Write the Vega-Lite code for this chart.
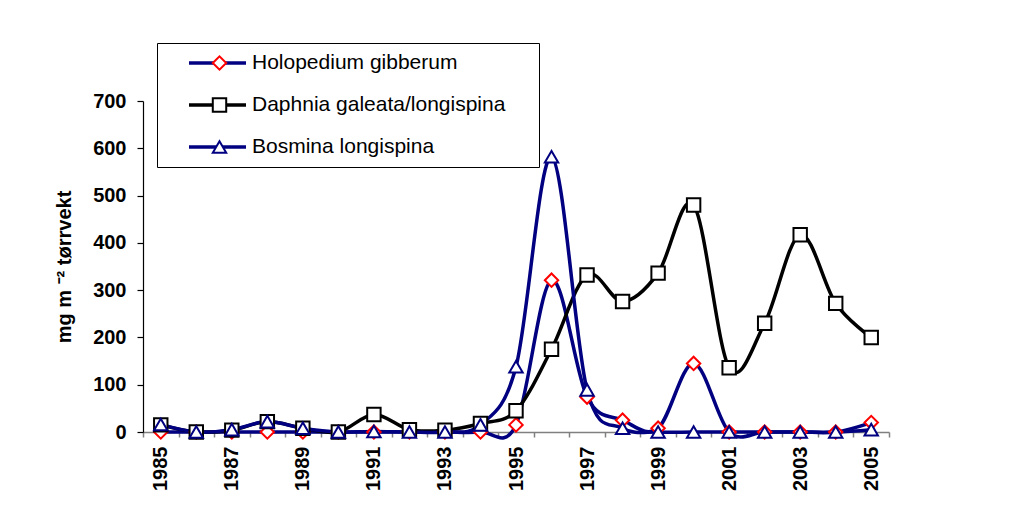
{
  "$schema": "https://vega.github.io/schema/vega-lite/v6.json",
  "autosize": "none",
  "width": 746,
  "height": 331,
  "padding": {"left": 143, "top": 101, "right": 138, "bottom": 81},
  "background": "white",
  "config": {
    "font": "Liberation Sans",
    "view": {"stroke": null}
  },
  "data": {
    "values": [
      {"year": 1985, "series": "Holopedium gibberum", "value": 0},
      {"year": 1986, "series": "Holopedium gibberum", "value": 0},
      {"year": 1987, "series": "Holopedium gibberum", "value": 0},
      {"year": 1988, "series": "Holopedium gibberum", "value": 0},
      {"year": 1989, "series": "Holopedium gibberum", "value": 0},
      {"year": 1990, "series": "Holopedium gibberum", "value": 0},
      {"year": 1991, "series": "Holopedium gibberum", "value": 0},
      {"year": 1992, "series": "Holopedium gibberum", "value": 0},
      {"year": 1993, "series": "Holopedium gibberum", "value": 0},
      {"year": 1994, "series": "Holopedium gibberum", "value": 0},
      {"year": 1995, "series": "Holopedium gibberum", "value": 15},
      {"year": 1996, "series": "Holopedium gibberum", "value": 321},
      {"year": 1997, "series": "Holopedium gibberum", "value": 74},
      {"year": 1998, "series": "Holopedium gibberum", "value": 25},
      {"year": 1999, "series": "Holopedium gibberum", "value": 8},
      {"year": 2000, "series": "Holopedium gibberum", "value": 145},
      {"year": 2001, "series": "Holopedium gibberum", "value": 0},
      {"year": 2002, "series": "Holopedium gibberum", "value": 0},
      {"year": 2003, "series": "Holopedium gibberum", "value": 0},
      {"year": 2004, "series": "Holopedium gibberum", "value": 0},
      {"year": 2005, "series": "Holopedium gibberum", "value": 20},
      {"year": 1985, "series": "Daphnia galeata/longispina", "value": 15},
      {"year": 1986, "series": "Daphnia galeata/longispina", "value": 0},
      {"year": 1987, "series": "Daphnia galeata/longispina", "value": 4},
      {"year": 1988, "series": "Daphnia galeata/longispina", "value": 22},
      {"year": 1989, "series": "Daphnia galeata/longispina", "value": 8},
      {"year": 1990, "series": "Daphnia galeata/longispina", "value": 0},
      {"year": 1991, "series": "Daphnia galeata/longispina", "value": 37},
      {"year": 1992, "series": "Daphnia galeata/longispina", "value": 5},
      {"year": 1993, "series": "Daphnia galeata/longispina", "value": 4},
      {"year": 1994, "series": "Daphnia galeata/longispina", "value": 18},
      {"year": 1995, "series": "Daphnia galeata/longispina", "value": 45},
      {"year": 1996, "series": "Daphnia galeata/longispina", "value": 175},
      {"year": 1997, "series": "Daphnia galeata/longispina", "value": 332},
      {"year": 1998, "series": "Daphnia galeata/longispina", "value": 276},
      {"year": 1999, "series": "Daphnia galeata/longispina", "value": 336},
      {"year": 2000, "series": "Daphnia galeata/longispina", "value": 480},
      {"year": 2001, "series": "Daphnia galeata/longispina", "value": 136},
      {"year": 2002, "series": "Daphnia galeata/longispina", "value": 230},
      {"year": 2003, "series": "Daphnia galeata/longispina", "value": 417},
      {"year": 2004, "series": "Daphnia galeata/longispina", "value": 272},
      {"year": 2005, "series": "Daphnia galeata/longispina", "value": 200},
      {"year": 1985, "series": "Bosmina longispina", "value": 16},
      {"year": 1986, "series": "Bosmina longispina", "value": 0},
      {"year": 1987, "series": "Bosmina longispina", "value": 5},
      {"year": 1988, "series": "Bosmina longispina", "value": 22},
      {"year": 1989, "series": "Bosmina longispina", "value": 8},
      {"year": 1990, "series": "Bosmina longispina", "value": 0},
      {"year": 1991, "series": "Bosmina longispina", "value": 1},
      {"year": 1992, "series": "Bosmina longispina", "value": 0},
      {"year": 1993, "series": "Bosmina longispina", "value": 0},
      {"year": 1994, "series": "Bosmina longispina", "value": 15},
      {"year": 1995, "series": "Bosmina longispina", "value": 138},
      {"year": 1996, "series": "Bosmina longispina", "value": 582},
      {"year": 1997, "series": "Bosmina longispina", "value": 89},
      {"year": 1998, "series": "Bosmina longispina", "value": 8},
      {"year": 1999, "series": "Bosmina longispina", "value": 0},
      {"year": 2000, "series": "Bosmina longispina", "value": 0},
      {"year": 2001, "series": "Bosmina longispina", "value": 0},
      {"year": 2002, "series": "Bosmina longispina", "value": 0},
      {"year": 2003, "series": "Bosmina longispina", "value": 0},
      {"year": 2004, "series": "Bosmina longispina", "value": 0},
      {"year": 2005, "series": "Bosmina longispina", "value": 5}
    ]
  },
  "encoding": {
    "x": {
      "field": "year",
      "type": "ordinal",
      "scale": {"type": "band", "paddingInner": 0, "paddingOuter": 0},
      "axis": {
        "title": null,
        "tickBand": "extent",
        "labelAngle": -90,
        "labelExpr": "datum.value % 2 == 1 ? datum.label : ''",
        "labelFontSize": 20,
        "labelFontWeight": "bold",
        "labelColor": "black",
        "labelPadding": 9,
        "tickSize": 5,
        "tickColor": "#808080",
        "domainColor": "#808080",
        "tickWidth": 1.5,
        "domainWidth": 1.5,
        "grid": false
      }
    },
    "y": {
      "field": "value",
      "type": "quantitative",
      "scale": {"domain": [0, 700], "nice": false},
      "axis": {
        "values": [0, 100, 200, 300, 400, 500, 600, 700],
        "title": "mg m \u207B\u00B2 tørrvekt",
        "titleFontSize": 20,
        "titleFontWeight": "bold",
        "titleColor": "black",
        "titlePadding": 18,
        "labelFontSize": 20,
        "labelFontWeight": "bold",
        "labelColor": "black",
        "labelPadding": 11,
        "tickSize": 6,
        "tickColor": "black",
        "domainColor": "black",
        "tickWidth": 1.2,
        "domainWidth": 1.2,
        "grid": false
      }
    }
  },
  "layer": [
    {
      "mark": {"type": "line", "interpolate": "cardinal", "strokeWidth": 3.5},
      "encoding": {
        "color": {
          "field": "series",
          "type": "nominal",
          "sort": ["Holopedium gibberum", "Daphnia galeata/longispina", "Bosmina longispina"],
          "scale": {"range": ["#000080", "#000000", "#000080"]},
          "legend": {
            "title": "\u00A0",
            "titleOrient": "right",
            "titleFontSize": 1,
            "titlePadding": 24,
            "orient": "none",
            "legendX": 14,
            "legendY": -58,
            "padding": 10,
            "strokeColor": "black",
            "fillColor": "white",
            "symbolType": "M-1,0L1,0",
            "symbolSize": 3249,
            "symbolStrokeWidth": 3.5,
            "symbolFillColor": "transparent",
            "symbolOffset": 20,
            "labelOffset": 4,
            "labelFontSize": 21,
            "labelColor": "black",
            "labelLimit": 400,
            "clipHeight": 20,
            "rowPadding": 21
          }
        }
      }
    },
    {
      "mark": {"type": "point", "filled": false, "fill": "white", "size": 180, "strokeWidth": 2, "opacity": 1},
      "encoding": {
        "stroke": {
          "field": "series",
          "type": "nominal",
          "scale": {
            "domain": ["Holopedium gibberum", "Daphnia galeata/longispina", "Bosmina longispina"],
            "range": ["#FF0000", "#000000", "#000080"]
          },
          "legend": {
            "title": null,
            "orient": "none",
            "legendX": 14,
            "legendY": -58,
            "padding": 10,
            "symbolSize": 180,
            "symbolStrokeWidth": 2,
            "symbolFillColor": "white",
            "symbolOffset": 42,
            "labelFontSize": 21,
            "labelExpr": "''",
            "labelLimit": 400,
            "clipHeight": 20,
            "rowPadding": 21
          }
        },
        "shape": {
          "field": "series",
          "type": "nominal",
          "scale": {
            "domain": ["Holopedium gibberum", "Daphnia galeata/longispina", "Bosmina longispina"],
            "range": ["diamond", "square", "triangle-up"]
          },
          "legend": {
            "title": null,
            "orient": "none",
            "legendX": 14,
            "legendY": -58,
            "padding": 10,
            "symbolSize": 180,
            "symbolStrokeWidth": 2,
            "symbolFillColor": "white",
            "symbolOffset": 42,
            "labelFontSize": 21,
            "labelExpr": "''",
            "labelLimit": 400,
            "clipHeight": 20,
            "rowPadding": 21
          }
        }
      }
    }
  ]
}
